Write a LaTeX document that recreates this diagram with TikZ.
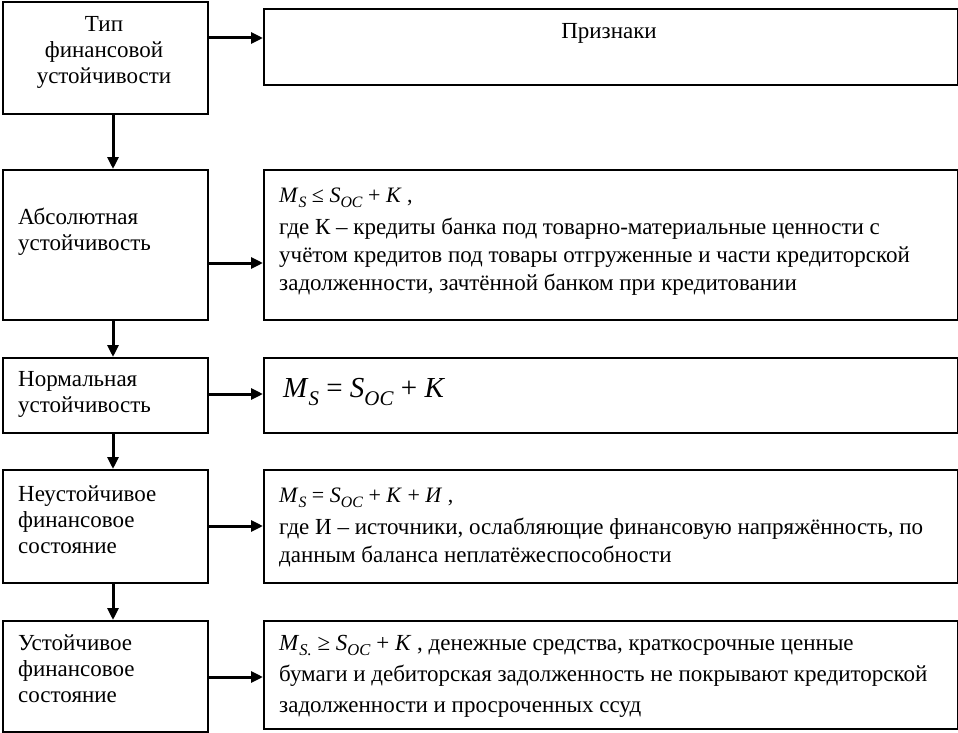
\documentclass[tikz,border=0pt]{standalone}
\usepackage{fontspec}
\setmainfont{Liberation Serif}
\usetikzlibrary{arrows.meta}
\newcommand\fml[1]{\textit{#1}}
\newcommand\sbs[1]{\raisebox{-0.55ex}{\scalebox{0.72}{\textit{#1}}}}
\begin{document}
\begin{tikzpicture}[x=1pt,y=-1pt,
  box/.style={draw,line width=2pt,inner sep=0pt,anchor=north west},
  arr/.style={line width=3pt,-{Triangle[length=12pt,width=11pt]}},
  lt/.style={anchor=west,inner sep=0pt,font=\fontsize{23}{26}\selectfont,align=left},
  rt/.style={anchor=west,inner sep=0pt,font=\fontsize{23}{28}\selectfont,align=left},
  ft/.style={anchor=west,inner sep=0pt,font=\fontsize{22}{28}\selectfont}]
\useasboundingbox (0,0) rectangle (958,733);
% boxes
\node[box,minimum width=205pt,minimum height=112pt] (l1) at (2,1) {};
\node[box,minimum width=694pt,minimum height=76pt] (r1) at (263,8) {};
\node[box,minimum width=205pt,minimum height=150pt] (l2) at (2,169) {};
\node[box,minimum width=694pt,minimum height=150pt] (r2) at (263,169) {};
\node[box,minimum width=205pt,minimum height=75pt] (l3) at (2,357) {};
\node[box,minimum width=694pt,minimum height=75pt] (r3) at (263,357) {};
\node[box,minimum width=205pt,minimum height=113pt] (l4) at (2,469) {};
\node[box,minimum width=694pt,minimum height=113pt] (r4) at (263,469) {};
\node[box,minimum width=205pt,minimum height=111pt] (l5) at (2,620) {};
\node[box,minimum width=694pt,minimum height=108pt] (r5) at (263,620) {};
% connectors
\coordinate (xv) at (113,0);
\coordinate (y1) at (0,38);
\coordinate (y2) at (0,263);
\coordinate (y3) at (0,394);
\coordinate (y4) at (0,526);
\coordinate (y5) at (0,677);
\draw[arr] (l1.east |- y1) -- (r1.west |- y1);
\draw[arr] (l2.east |- y2) -- (r2.west |- y2);
\draw[arr] (l3.east |- y3) -- (r3.west |- y3);
\draw[arr] (l4.east |- y4) -- (r4.west |- y4);
\draw[arr] (l5.east |- y5) -- (r5.west |- y5);
\draw[arr] (l1.south -| xv) -- (l2.north -| xv);
\draw[arr] (l2.south -| xv) -- (l3.north -| xv);
\draw[arr] (l3.south -| xv) -- (l4.north -| xv);
\draw[arr] (l4.south -| xv) -- (l5.north -| xv);
% texts
\node[lt,anchor=center,align=center] (t1) at (104,52) {Тип\\финансовой\\устойчивости};
\node[lt,anchor=center] (p1) at (609,33) {Признаки};
\node[lt] (t2) at (18,232) {Абсолютная\\устойчивость};
\node[ft] (f2) at (279,198) {\fml{M}\sbs{S} ≤ \fml{S}\sbs{OC} + \fml{K} ,};
\node[rt] (p2) at (279,257) {где К – кредиты банка под товарно-материальные ценности с\\учётом кредитов под товары отгруженные и части кредиторской\\задолженности, зачтённой банком при кредитовании};
\node[lt] (t3) at (18,394) {Нормальная\\устойчивость};
\node[anchor=west,inner sep=0pt,font=\fontsize{29}{36}\selectfont] (f3) at (283,392) {\fml{M}\sbs{S} = \fml{S}\sbs{OC} + \fml{K}};
\node[lt] (t4) at (18,520) {Неустойчивое\\финансовое\\состояние};
\node[ft] (f4) at (279,498) {\fml{M}\sbs{S} = \fml{S}\sbs{OC} + \fml{K} + \fml{И} ,};
\node[rt] (p4) at (279,542) {где И – источники, ослабляющие финансовую напряжённость, по\\данным баланса неплатёжеспособности};
\node[lt] (t5) at (18,669) {Устойчивое\\финансовое\\состояние};
\node[anchor=west,inner sep=0pt,font=\fontsize{23}{31}\selectfont,align=left] (p5) at (279,676) {\fml{M}\sbs{S.} ≥ \fml{S}\sbs{OC} + \fml{K} , денежные средства, краткосрочные ценные\\бумаги и дебиторская задолженность не покрывают кредиторской\\задолженности и просроченных ссуд};
\end{tikzpicture}
\end{document}
